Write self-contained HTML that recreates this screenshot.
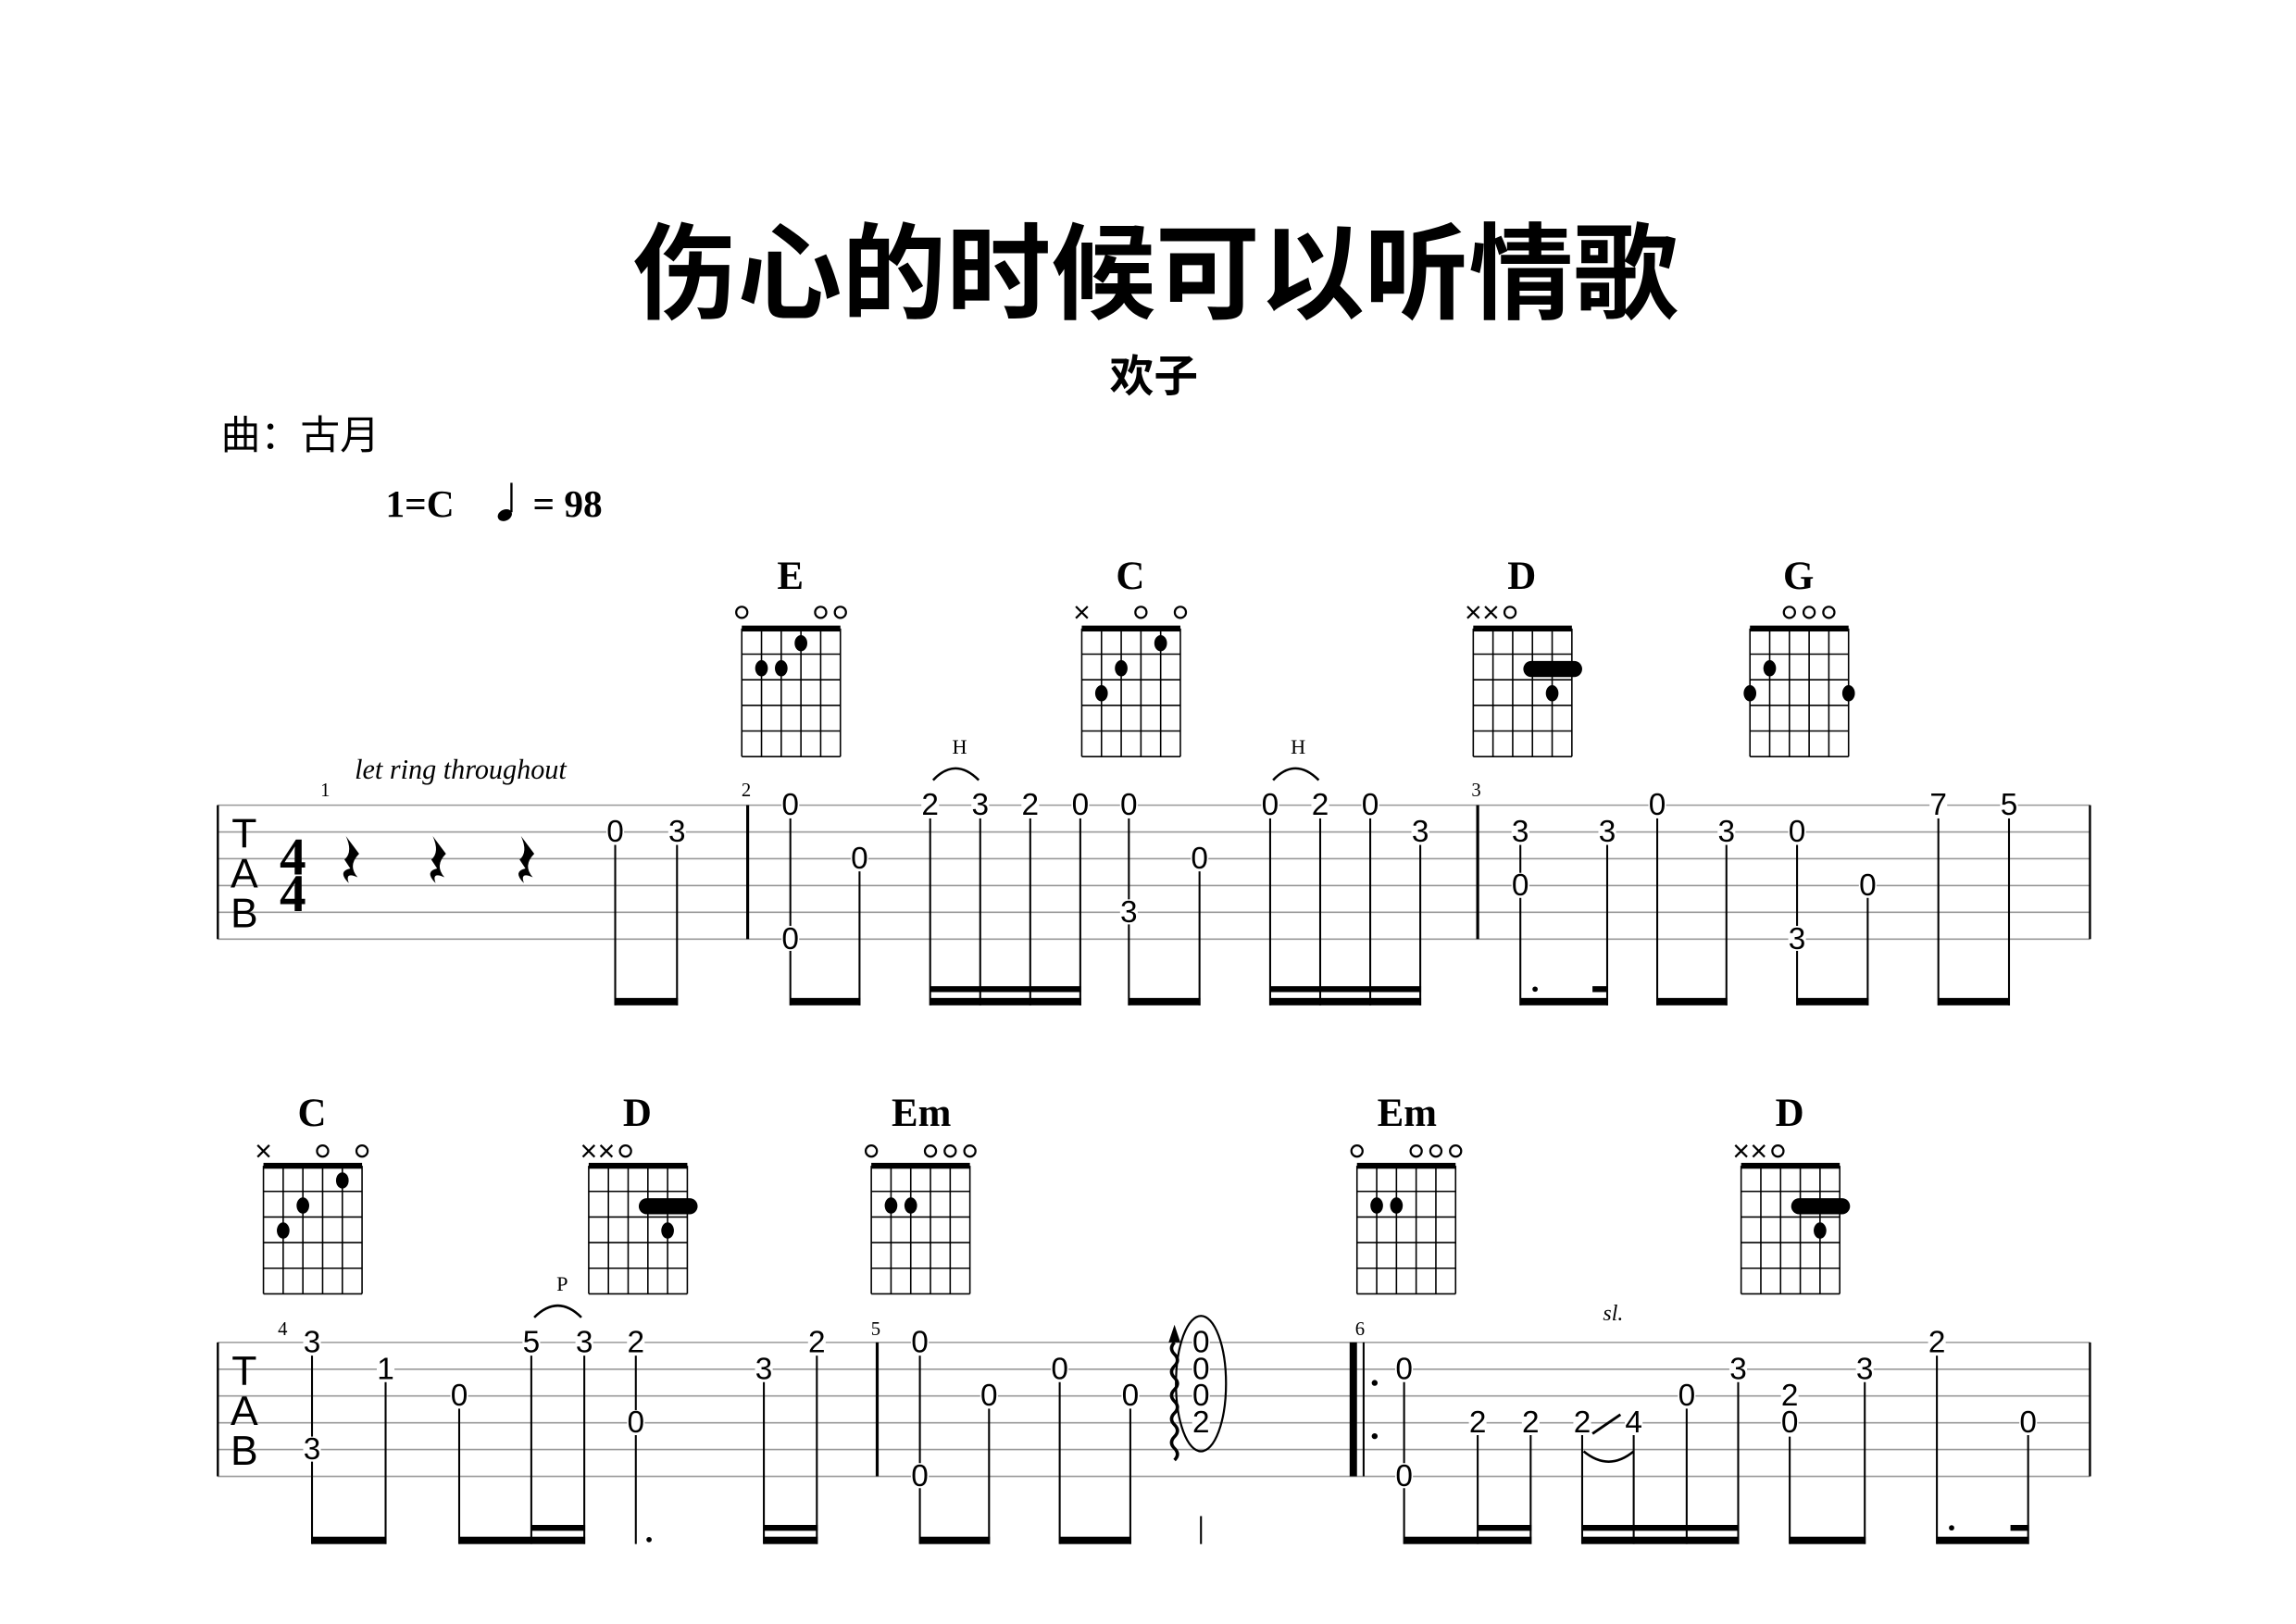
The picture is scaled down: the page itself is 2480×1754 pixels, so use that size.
<!DOCTYPE html>
<html><head><meta charset="utf-8"><style>
html,body{margin:0;padding:0;background:#fff;}
svg{display:block;}
.n{font-family:"Liberation Sans Narrow","Liberation Sans",sans-serif;font-size:21px;text-anchor:middle;dominant-baseline:central;}
.ch{font-family:"Liberation Serif",serif;font-weight:bold;font-size:27px;text-anchor:middle;}
.mn{font-family:"Liberation Serif",serif;font-size:13px;text-anchor:middle;}
.tab{font-family:"Liberation Sans",sans-serif;font-size:28px;text-anchor:middle;}
</style></head><body>
<svg width="2480" height="1754" viewBox="0 0 1560 1103.3" xmlns="http://www.w3.org/2000/svg">
<defs>
<g id="grid" stroke="#000" fill="none">
<rect x="0" y="-2" width="67" height="4" fill="#000" stroke="none"/>
<line x1="0" y1="0" x2="0" y2="87" stroke-width="1"/>
<line x1="13.4" y1="0" x2="13.4" y2="87" stroke-width="1"/>
<line x1="26.8" y1="0" x2="26.8" y2="87" stroke-width="1"/>
<line x1="40.2" y1="0" x2="40.2" y2="87" stroke-width="1"/>
<line x1="53.6" y1="0" x2="53.6" y2="87" stroke-width="1"/>
<line x1="67" y1="0" x2="67" y2="87" stroke-width="1"/>
<line x1="0" y1="17.4" x2="67" y2="17.4"/>
<line x1="0" y1="34.8" x2="67" y2="34.8"/>
<line x1="0" y1="52.2" x2="67" y2="52.2"/>
<line x1="0" y1="69.6" x2="67" y2="69.6"/>
<line x1="0" y1="87" x2="67" y2="87"/>
</g>
<g id="o"><circle cx="0" cy="0" r="3.8" fill="none" stroke="#000" stroke-width="1.4"/></g>
<g id="x" stroke="#000" stroke-width="1.4"><line x1="-4" y1="-4" x2="4" y2="4"/><line x1="-4" y1="4" x2="4" y2="-4"/></g>
<g id="rest"><path d="M-4,-18 L5,-6 Q-3,2 4,10 Q-5,6 -2,14 Q-10,6 -1,4 L-5,-2 Q1,-7 -4,-18Z" fill="#000"/></g>
</defs>

<!-- Header -->
<text x="785" y="211" font-family="'Liberation Sans','Noto Sans CJK SC',sans-serif" font-weight="bold" font-size="71" text-anchor="middle">伤心的时候可以听情歌</text>
<text x="784" y="266" font-family="'Liberation Sans','Noto Sans CJK SC',sans-serif" font-weight="bold" font-size="30" text-anchor="middle">欢子</text>
<text x="150" y="305" font-family="'Liberation Sans','Noto Sans CJK SC',sans-serif" font-size="27">曲：古月</text>
<text x="262" y="351" font-family="'Liberation Serif',serif" font-weight="bold" font-size="26">1=C</text>
<ellipse cx="343" cy="350" rx="5" ry="3.8" transform="rotate(-25 343 350)" fill="#000"/>
<line x1="347.5" y1="348" x2="347.5" y2="328" stroke="#000" stroke-width="1.5"/>
<text x="362" y="351" font-family="'Liberation Serif',serif" font-weight="bold" font-size="26">= 98</text>

<!-- ===== System 1 chords ===== -->
<text class="ch" x="537" y="400">E</text>
<use href="#grid" x="504" y="427"/>
<use href="#o" x="504" y="416"/><use href="#o" x="557.6" y="416"/><use href="#o" x="571" y="416"/>
<ellipse cx="544.2" cy="437" rx="4.3" ry="5.5"/><ellipse cx="517.4" cy="454" rx="4.3" ry="5.5"/><ellipse cx="530.8" cy="454" rx="4.3" ry="5.5"/>

<text class="ch" x="768" y="400">C</text>
<use href="#grid" x="735" y="427"/>
<use href="#x" x="735" y="416"/><use href="#o" x="775.2" y="416"/><use href="#o" x="802" y="416"/>
<ellipse cx="788.6" cy="437" rx="4.3" ry="5.5"/><ellipse cx="761.8" cy="454" rx="4.3" ry="5.5"/><ellipse cx="748.4" cy="471" rx="4.3" ry="5.5"/>

<text class="ch" x="1034" y="400">D</text>
<use href="#grid" x="1001" y="427"/>
<use href="#x" x="1001" y="416"/><use href="#x" x="1013" y="416"/><use href="#o" x="1026" y="416"/>
<rect x="1035" y="449" width="40" height="11" rx="5.5" fill="#000"/>
<ellipse cx="1054.6" cy="471" rx="4.3" ry="5.5"/>

<text class="ch" x="1222" y="400">G</text>
<use href="#grid" x="1189" y="427"/>
<use href="#o" x="1215.8" y="416"/><use href="#o" x="1229.2" y="416"/><use href="#o" x="1242.6" y="416"/>
<ellipse cx="1202.4" cy="454" rx="4.3" ry="5.5"/><ellipse cx="1189" cy="471" rx="4.3" ry="5.5"/><ellipse cx="1256" cy="471" rx="4.3" ry="5.5"/>

<!-- ===== System 1 staff ===== -->
<g stroke="#999" stroke-width="1">
<line x1="148" y1="547" x2="1420" y2="547"/><line x1="148" y1="565.2" x2="1420" y2="565.2"/>
<line x1="148" y1="583.4" x2="1420" y2="583.4"/><line x1="148" y1="601.6" x2="1420" y2="601.6"/>
<line x1="148" y1="619.8" x2="1420" y2="619.8"/><line x1="148" y1="638" x2="1420" y2="638"/>
</g>
<g stroke="#000" stroke-width="1.5">
<line x1="148" y1="547" x2="148" y2="638"/><line x1="508" y1="547" x2="508" y2="638" stroke-width="2"/>
<line x1="1004" y1="547" x2="1004" y2="638" stroke-width="2"/><line x1="1420" y1="547" x2="1420" y2="638"/>
</g>
<text class="tab" x="166" y="576">T</text><text class="tab" x="166" y="603">A</text><text class="tab" x="166" y="630">B</text>
<text x="199" y="594" font-family="'Liberation Serif',serif" font-weight="bold" font-size="36" text-anchor="middle">4</text>
<text x="199" y="619" font-family="'Liberation Serif',serif" font-weight="bold" font-size="36" text-anchor="middle">4</text>
<use href="#rest" x="239" y="586"/><use href="#rest" x="298" y="586"/><use href="#rest" x="358" y="586"/>
<text x="241" y="529" font-family="'Liberation Serif',serif" font-style="italic" font-size="19">let ring throughout</text>
<text class="mn" x="221" y="541">1</text><text class="mn" x="507" y="541">2</text><text class="mn" x="1003" y="541">3</text>
<text x="652" y="512" font-family="'Liberation Serif',serif" font-size="14" text-anchor="middle">H</text>
<text x="882" y="512" font-family="'Liberation Serif',serif" font-size="14" text-anchor="middle">H</text>
<path d="M634,530 Q649,514 665,530" fill="none" stroke="#000" stroke-width="1.6"/>
<path d="M865,530 Q880,514 896,530" fill="none" stroke="#000" stroke-width="1.6"/>

<!-- stems sys1 -->
<g stroke="#000" stroke-width="1.3">
<line x1="418" y1="565" x2="418" y2="683"/><line x1="460" y1="565" x2="460" y2="683"/>
<line x1="537" y1="547" x2="537" y2="683"/><line x1="584" y1="583" x2="584" y2="683"/>
<line x1="632" y1="547" x2="632" y2="683"/><line x1="666" y1="547" x2="666" y2="683"/><line x1="700" y1="547" x2="700" y2="683"/><line x1="734" y1="547" x2="734" y2="683"/>
<line x1="767" y1="547" x2="767" y2="683"/><line x1="815" y1="583" x2="815" y2="683"/>
<line x1="863" y1="547" x2="863" y2="683"/><line x1="897" y1="547" x2="897" y2="683"/><line x1="931" y1="547" x2="931" y2="683"/><line x1="965" y1="565" x2="965" y2="683"/>
<line x1="1033" y1="565" x2="1033" y2="683"/><line x1="1092" y1="565" x2="1092" y2="683"/>
<line x1="1126" y1="547" x2="1126" y2="683"/><line x1="1173" y1="565" x2="1173" y2="683"/>
<line x1="1221" y1="565" x2="1221" y2="683"/><line x1="1269" y1="601" x2="1269" y2="683"/>
<line x1="1317" y1="547" x2="1317" y2="683"/><line x1="1365" y1="547" x2="1365" y2="683"/>
</g>
<g fill="#000">
<rect x="418" y="678" width="42.6" height="5"/>
<rect x="537" y="678" width="47.6" height="5"/>
<rect x="632" y="678" width="102.6" height="5"/><rect x="632" y="670" width="102.6" height="4"/>
<rect x="767" y="678" width="48.6" height="5"/>
<rect x="863" y="678" width="102.6" height="5"/><rect x="863" y="670" width="102.6" height="4"/>
<rect x="1033" y="678" width="59.6" height="5"/><rect x="1082" y="670" width="10.6" height="4"/><circle cx="1043" cy="672" r="1.8"/>
<rect x="1126" y="678" width="47.6" height="5"/>
<rect x="1221" y="678" width="48.6" height="5"/>
<rect x="1317" y="678" width="48.6" height="5"/>
</g>

<!-- notes sys1 -->
<g fill="#fff">
<rect x="412" y="557" width="12" height="17"/><rect x="454" y="557" width="12" height="17"/>
<rect x="531" y="539" width="12" height="17"/><rect x="531" y="629" width="12" height="17"/>
<rect x="578" y="575" width="12" height="17"/>
<rect x="626" y="539" width="12" height="17"/><rect x="660" y="539" width="12" height="17"/><rect x="694" y="539" width="12" height="17"/><rect x="728" y="539" width="12" height="17"/>
<rect x="761" y="539" width="12" height="17"/><rect x="761" y="611" width="12" height="17"/><rect x="809" y="575" width="12" height="17"/>
<rect x="857" y="539" width="12" height="17"/><rect x="891" y="539" width="12" height="17"/><rect x="925" y="539" width="12" height="17"/><rect x="959" y="557" width="12" height="17"/>
<rect x="1027" y="557" width="12" height="17"/><rect x="1027" y="593" width="12" height="17"/><rect x="1086" y="557" width="12" height="17"/>
<rect x="1120" y="539" width="12" height="17"/><rect x="1167" y="557" width="12" height="17"/>
<rect x="1215" y="557" width="12" height="17"/><rect x="1215" y="629" width="12" height="17"/><rect x="1263" y="593" width="12" height="17"/>
<rect x="1311" y="539" width="12" height="17"/><rect x="1359" y="539" width="12" height="17"/>
</g>
<g>
<text class="n" x="418" y="565.2">0</text><text class="n" x="460" y="565.2">3</text>
<text class="n" x="537" y="547">0</text><text class="n" x="537" y="638">0</text><text class="n" x="584" y="583.4">0</text>
<text class="n" x="632" y="547">2</text><text class="n" x="666" y="547">3</text><text class="n" x="700" y="547">2</text><text class="n" x="734" y="547">0</text>
<text class="n" x="767" y="547">0</text><text class="n" x="767" y="619.8">3</text><text class="n" x="815" y="583.4">0</text>
<text class="n" x="863" y="547">0</text><text class="n" x="897" y="547">2</text><text class="n" x="931" y="547">0</text><text class="n" x="965" y="565.2">3</text>
<text class="n" x="1033" y="565.2">3</text><text class="n" x="1033" y="601.6">0</text><text class="n" x="1092" y="565.2">3</text>
<text class="n" x="1126" y="547">0</text><text class="n" x="1173" y="565.2">3</text>
<text class="n" x="1221" y="565.2">0</text><text class="n" x="1221" y="638">3</text><text class="n" x="1269" y="601.6">0</text>
<text class="n" x="1317" y="547">7</text><text class="n" x="1365" y="547">5</text>
</g>

<!-- ===== System 2 chords ===== -->
<text class="ch" x="212" y="765">C</text>
<use href="#grid" x="179" y="792"/>
<use href="#x" x="179" y="782"/><use href="#o" x="219.2" y="782"/><use href="#o" x="246" y="782"/>
<ellipse cx="232.6" cy="802" rx="4.3" ry="5.5"/><ellipse cx="205.8" cy="819" rx="4.3" ry="5.5"/><ellipse cx="192.4" cy="836" rx="4.3" ry="5.5"/>

<text class="ch" x="433" y="765">D</text>
<use href="#grid" x="400" y="792"/>
<use href="#x" x="400" y="782"/><use href="#x" x="412" y="782"/><use href="#o" x="425" y="782"/>
<rect x="434" y="814" width="40" height="11" rx="5.5" fill="#000"/>
<ellipse cx="453.6" cy="836" rx="4.3" ry="5.5"/>

<text class="ch" x="626" y="765">Em</text>
<use href="#grid" x="592" y="792"/>
<use href="#o" x="592" y="782"/><use href="#o" x="632.2" y="782"/><use href="#o" x="645.6" y="782"/><use href="#o" x="659" y="782"/>
<ellipse cx="605.4" cy="819" rx="4.3" ry="5.5"/><ellipse cx="618.8" cy="819" rx="4.3" ry="5.5"/>

<text class="ch" x="956" y="765">Em</text>
<use href="#grid" x="922" y="792"/>
<use href="#o" x="922" y="782"/><use href="#o" x="962.2" y="782"/><use href="#o" x="975.6" y="782"/><use href="#o" x="989" y="782"/>
<ellipse cx="935.4" cy="819" rx="4.3" ry="5.5"/><ellipse cx="948.8" cy="819" rx="4.3" ry="5.5"/>

<text class="ch" x="1216" y="765">D</text>
<use href="#grid" x="1183" y="792"/>
<use href="#x" x="1183" y="782"/><use href="#x" x="1195" y="782"/><use href="#o" x="1208" y="782"/>
<rect x="1217" y="814" width="40" height="11" rx="5.5" fill="#000"/>
<ellipse cx="1236.6" cy="836" rx="4.3" ry="5.5"/>

<!-- ===== System 2 staff ===== -->
<g stroke="#999" stroke-width="1">
<line x1="148" y1="912" x2="1420" y2="912"/><line x1="148" y1="930.2" x2="1420" y2="930.2"/>
<line x1="148" y1="948.4" x2="1420" y2="948.4"/><line x1="148" y1="966.6" x2="1420" y2="966.6"/>
<line x1="148" y1="984.8" x2="1420" y2="984.8"/><line x1="148" y1="1003" x2="1420" y2="1003"/>
</g>
<g stroke="#000" stroke-width="1.5">
<line x1="148" y1="912" x2="148" y2="1003"/><line x1="596" y1="912" x2="596" y2="1003" stroke-width="2"/>
<line x1="1420" y1="912" x2="1420" y2="1003"/>
<line x1="926.5" y1="912" x2="926.5" y2="1003" stroke-width="1.3"/>
</g>
<rect x="917" y="912" width="5" height="91" fill="#000"/>
<circle cx="934" cy="939.5" r="2" fill="#000"/><circle cx="934" cy="975.7" r="2" fill="#000"/>
<text class="tab" x="166" y="941">T</text><text class="tab" x="166" y="968">A</text><text class="tab" x="166" y="995">B</text>
<text class="mn" x="192" y="907">4</text><text class="mn" x="595" y="907">5</text><text class="mn" x="924" y="907">6</text>
<text x="382" y="877" font-family="'Liberation Serif',serif" font-size="14" text-anchor="middle">P</text>
<path d="M363,895 Q379,879 395,895" fill="none" stroke="#000" stroke-width="1.6"/>
<text x="1096" y="897" font-family="'Liberation Serif',serif" font-style="italic" font-size="15" text-anchor="middle">sl.</text>
<path d="M1076,986 Q1093,1000 1110,986" fill="none" stroke="#000" stroke-width="1.6"/>
<line x1="1082" y1="974" x2="1101" y2="961" stroke="#000" stroke-width="1.8"/>

<!-- arpeggio -->
<path d="M798,912 q-4,4 0,8 q4,4 0,8 q-4,4 0,8 q4,4 0,8 q-4,4 0,8 q4,4 0,8 q-4,4 0,8 q4,4 0,8 q-4,4 0,8 q4,4 0,8" fill="none" stroke="#000" stroke-width="2.2"/>
<path d="M798,900 L794,912 L802,912Z" fill="#000"/>
<ellipse cx="816" cy="940" rx="17" ry="46" fill="none" stroke="#000" stroke-width="1.4"/>

<!-- stems sys2 -->
<g stroke="#000" stroke-width="1.3">
<line x1="212" y1="912" x2="212" y2="1049"/><line x1="262" y1="930" x2="262" y2="1049"/>
<line x1="312" y1="948" x2="312" y2="1049"/><line x1="361" y1="912" x2="361" y2="1049"/><line x1="397" y1="912" x2="397" y2="1049"/>
<line x1="432" y1="912" x2="432" y2="1049"/>
<line x1="519" y1="930" x2="519" y2="1049"/><line x1="555" y1="912" x2="555" y2="1049"/>
<line x1="625" y1="912" x2="625" y2="1049"/><line x1="672" y1="948" x2="672" y2="1049"/>
<line x1="720" y1="930" x2="720" y2="1049"/><line x1="768" y1="948" x2="768" y2="1049"/>
<line x1="816" y1="1030" x2="816" y2="1049"/>
<line x1="954" y1="930" x2="954" y2="1049"/><line x1="1004" y1="966" x2="1004" y2="1049"/><line x1="1040" y1="966" x2="1040" y2="1049"/>
<line x1="1075" y1="966" x2="1075" y2="1049"/><line x1="1110" y1="966" x2="1110" y2="1049"/><line x1="1146" y1="948" x2="1146" y2="1049"/><line x1="1181" y1="930" x2="1181" y2="1049"/>
<line x1="1216" y1="948" x2="1216" y2="1049"/><line x1="1267" y1="930" x2="1267" y2="1049"/>
<line x1="1316" y1="912" x2="1316" y2="1049"/><line x1="1378" y1="966" x2="1378" y2="1049"/>
</g>
<g fill="#000">
<rect x="212" y="1044" width="50.6" height="5"/>
<rect x="312" y="1044" width="85.6" height="5"/><rect x="361" y="1036" width="36.6" height="4"/>
<circle cx="441" cy="1046" r="1.8"/>
<rect x="519" y="1044" width="36.6" height="5"/><rect x="519" y="1036" width="36.6" height="4"/>
<rect x="625" y="1044" width="47.6" height="5"/>
<rect x="720" y="1044" width="48.6" height="5"/>
<rect x="954" y="1044" width="86.6" height="5"/><rect x="1004" y="1036" width="36.6" height="4"/>
<rect x="1075" y="1044" width="106.6" height="5"/><rect x="1075" y="1036" width="106.6" height="4"/>
<rect x="1216" y="1044" width="51.6" height="5"/>
<rect x="1316" y="1044" width="62.6" height="5"/><rect x="1366" y="1036" width="12.6" height="4"/><circle cx="1326" cy="1038" r="1.8"/>
</g>

<!-- notes sys2 -->
<g fill="#fff">
<rect x="206" y="904" width="12" height="17"/><rect x="206" y="976" width="12" height="17"/><rect x="256" y="922" width="12" height="17"/>
<rect x="306" y="940" width="12" height="17"/><rect x="355" y="904" width="12" height="17"/><rect x="391" y="904" width="12" height="17"/>
<rect x="426" y="904" width="12" height="17"/><rect x="426" y="958" width="12" height="17"/>
<rect x="513" y="922" width="12" height="17"/><rect x="549" y="904" width="12" height="17"/>
<rect x="619" y="904" width="12" height="17"/><rect x="619" y="994" width="12" height="17"/>
<rect x="666" y="940" width="12" height="17"/><rect x="714" y="922" width="12" height="17"/><rect x="762" y="940" width="12" height="17"/>
<rect x="810" y="904" width="12" height="72"/>
<rect x="948" y="922" width="12" height="17"/><rect x="948" y="994" width="12" height="17"/>
<rect x="998" y="958" width="12" height="17"/><rect x="1034" y="958" width="12" height="17"/><rect x="1069" y="958" width="12" height="17"/><rect x="1104" y="958" width="12" height="17"/>
<rect x="1140" y="940" width="12" height="17"/><rect x="1175" y="922" width="12" height="17"/>
<rect x="1210" y="940" width="12" height="36"/><rect x="1261" y="922" width="12" height="17"/>
<rect x="1310" y="904" width="12" height="17"/><rect x="1372" y="958" width="12" height="17"/>
</g>
<g>
<text class="n" x="212" y="912">3</text><text class="n" x="212" y="984.8">3</text><text class="n" x="262" y="930.2">1</text>
<text class="n" x="312" y="948.4">0</text><text class="n" x="361" y="912">5</text><text class="n" x="397" y="912">3</text>
<text class="n" x="432" y="912">2</text><text class="n" x="432" y="966.6">0</text>
<text class="n" x="519" y="930.2">3</text><text class="n" x="555" y="912">2</text>
<text class="n" x="625" y="912">0</text><text class="n" x="625" y="1003">0</text>
<text class="n" x="672" y="948.4">0</text><text class="n" x="720" y="930.2">0</text><text class="n" x="768" y="948.4">0</text>
<text class="n" x="816" y="912">0</text><text class="n" x="816" y="930.2">0</text><text class="n" x="816" y="948.4">0</text><text class="n" x="816" y="966.6">2</text>
<text class="n" x="954" y="930.2">0</text><text class="n" x="954" y="1003">0</text>
<text class="n" x="1004" y="966.6">2</text><text class="n" x="1040" y="966.6">2</text><text class="n" x="1075" y="966.6">2</text><text class="n" x="1110" y="966.6">4</text>
<text class="n" x="1146" y="948.4">0</text><text class="n" x="1181" y="930.2">3</text>
<text class="n" x="1216" y="948.4">2</text><text class="n" x="1216" y="966.6">0</text><text class="n" x="1267" y="930.2">3</text>
<text class="n" x="1316" y="912">2</text><text class="n" x="1378" y="966.6">0</text>
</g>
</svg>
</body></html>
